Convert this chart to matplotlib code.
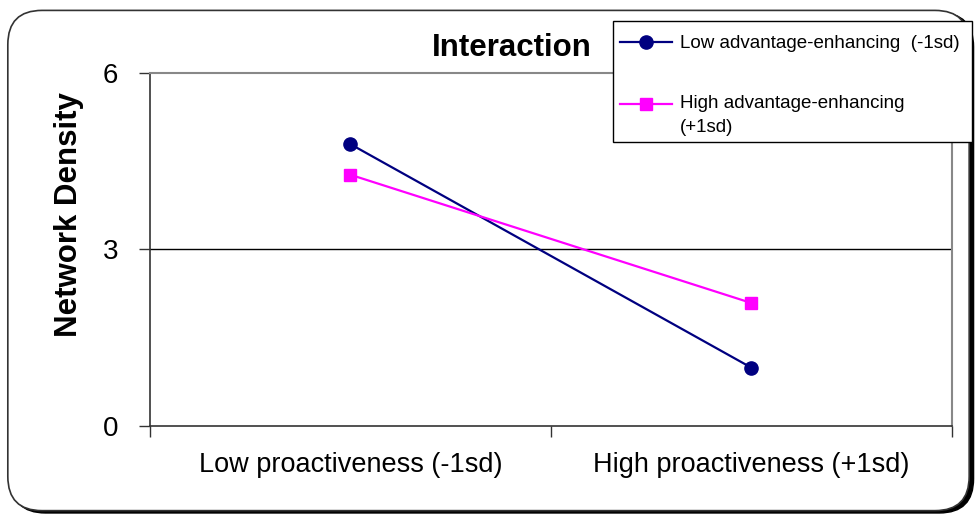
import matplotlib
matplotlib.use("Agg")
import matplotlib.pyplot as plt
from matplotlib.patches import FancyBboxPatch, Rectangle
from matplotlib.legend_handler import HandlerLine2D

# data
categories = ["Low proactiveness (-1sd)", "High proactiveness (+1sd)"]
low_adv = [4.79, 0.99]
high_adv = [4.27, 2.09]
series_labels = ["Low advantage-enhancing  (-1sd)", "High advantage-enhancing\n(+1sd)"]
yticks = [0, 3, 6]

plt.rcParams["font.family"] = ["Liberation Sans", "DejaVu Sans"]


class RaisedHandler(HandlerLine2D):
    # puts the legend line next to the first line of a two-line label
    def create_artists(self, *args, **kwargs):
        artists = super().create_artists(*args, **kwargs)
        for a in artists:
            a.set_ydata(a.get_ydata() + 8.5)
        return artists


fig = plt.figure(figsize=(9.77, 5.2), dpi=100)

# rounded chart frame with a little shadow on bottom/right
shadow = FancyBboxPatch((0.0115, 0.0135), 0.985, 0.962,
                        boxstyle="round,pad=0,rounding_size=0.035",
                        transform=fig.transFigure, facecolor="black",
                        edgecolor="black", linewidth=1, zorder=-2,
                        mutation_aspect=977 / 520)
frame = FancyBboxPatch((0.008, 0.018), 0.984, 0.962,
                       boxstyle="round,pad=0,rounding_size=0.035",
                       transform=fig.transFigure, facecolor="white",
                       edgecolor="#333333", linewidth=1.2, zorder=-1,
                       mutation_aspect=977 / 520)
fig.patches.extend([shadow, frame])

ax = fig.add_axes([0.1535, 0.1808, 0.8209, 0.6788])
ax.patch.set_alpha(0)

x = range(len(categories))
line_low, = ax.plot(x, low_adv, color="#000080", marker="o", markersize=9.5,
                    lw=1.6, label=series_labels[0], zorder=3)
line_high, = ax.plot(x, high_adv, color="#FF00FF", marker="s", markersize=9,
                     lw=1.6, label=series_labels[1], zorder=3)

ax.set_xlim(-0.5, 1.5)
ax.set_ylim(0, 6)
ax.set_yticks(yticks)
ax.set_yticklabels([str(v) for v in yticks], fontsize=20)
ax.tick_params(axis="y", length=8, width=1, color="#333333", pad=15)

ax.set_xticks([-0.5, 0.5, 1.5])
ax.set_xticklabels([])
ax.set_xticks(list(x), minor=True)
ax.set_xticklabels(categories, minor=True, fontsize=19.5)
ax.tick_params(axis="x", which="major", length=8, width=1, color="#333333")
ax.tick_params(axis="x", which="minor", length=0, pad=19)

ax.axhline(3, color="black", lw=1, zorder=1)
for side in ["left", "bottom"]:
    ax.spines[side].set_color("#333333")
    ax.spines[side].set_linewidth(1.2)
for side in ["right", "top"]:
    ax.spines[side].set_color("#888888")
    ax.spines[side].set_linewidth(1.5)

fig.text(69 / 977, 1 - 215 / 520, "Network Density", fontsize=22.5,
         fontweight="bold", rotation=90, ha="center", va="center")
fig.text(0.524, 0.908, "Interaction", fontsize=22.5, fontweight="bold",
         ha="center", va="center")

# legend box drawn by hand so its padding can differ per side
ax.add_patch(Rectangle((613 / 977, 1 - 142 / 520), 359 / 977, 121 / 520,
                       transform=fig.transFigure, facecolor="white",
                       edgecolor="black", linewidth=1, clip_on=False, zorder=4))
leg = ax.legend(loc="upper left", bbox_to_anchor=(620 / 977, 1 - 35 / 520),
                bbox_transform=fig.transFigure, fontsize=13.5,
                frameon=False, borderaxespad=0, borderpad=0,
                labelspacing=2.3, handlelength=2.77, handletextpad=0.43,
                handler_map={line_high: RaisedHandler()})
leg.get_texts()[1].set_linespacing(1.5)

fig.savefig("out.png", dpi=100)
